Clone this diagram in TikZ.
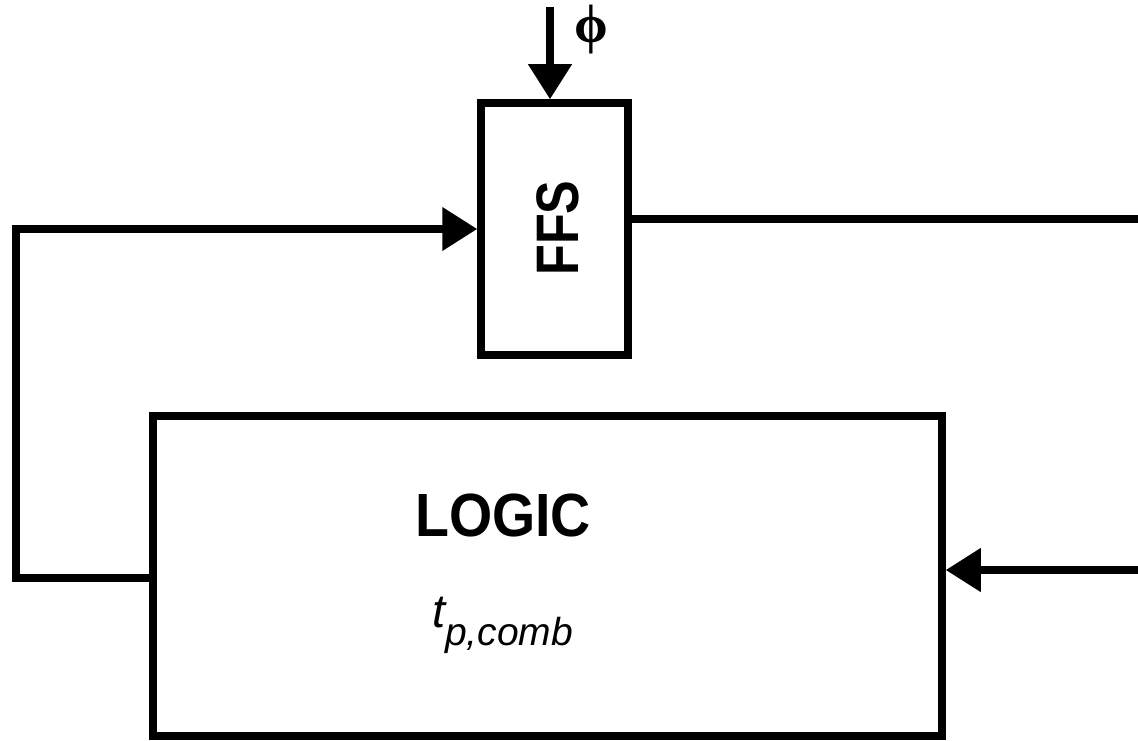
\documentclass[tikz,border=0pt]{standalone}
\usepackage{fontspec}
\setmainfont{Liberation Sans}
\newfontfamily\phifont{Liberation Serif}
\usetikzlibrary{arrows.meta}
\begin{document}
\begin{tikzpicture}[x=1pt,y=-1pt,
  blk/.style={draw=black,line width=7.5pt,rectangle,inner sep=0pt},
  wire/.style={line width=7.5pt},
  arr/.style={wire,-{Triangle[length=35pt,width=42pt]}},
  lbl/.style={inner sep=0pt}]
\useasboundingbox (0,0) rectangle (1138,741);
\node[blk,minimum width=147pt,minimum height=252pt] (ffs) at (554.5,229) {};
\node[lbl,rotate=90] (ffstxt) at (558,228) {\fontsize{60}{60}\selectfont\bfseries\scalebox{0.84}[1]{FFS}};
\node[blk,minimum width=789pt,minimum height=320pt] (logic) at (547.5,576) {};
\node[lbl] (logictxt) at (503,515) {\fontsize{61}{61}\selectfont\bfseries\scalebox{0.91}[1]{LOGIC}};
\node[lbl,anchor=base west] (tp) at (432,627) {\fontsize{47}{47}\selectfont\itshape t\raisebox{-18pt}{\fontsize{39}{39}\selectfont p,comb}};
\node[lbl] (phi) at (591,30) {\fontsize{54}{54}\selectfont\phifont\bfseries ϕ};
\coordinate (phitop) at (550,7);
\coordinate (lcorner) at (16,578);
\coordinate (rout) at (1138,219);
\coordinate (rin) at (1138,570);
\draw[arr] (phitop) -- (phitop |- ffs.north);
\draw[arr] (logic.west |- lcorner) -- (lcorner) |- (ffs.west);
\draw[wire] (rout -| ffs.east) -- (rout);
\draw[arr] (rin) -- (rin -| logic.east);
\end{tikzpicture}
\end{document}
